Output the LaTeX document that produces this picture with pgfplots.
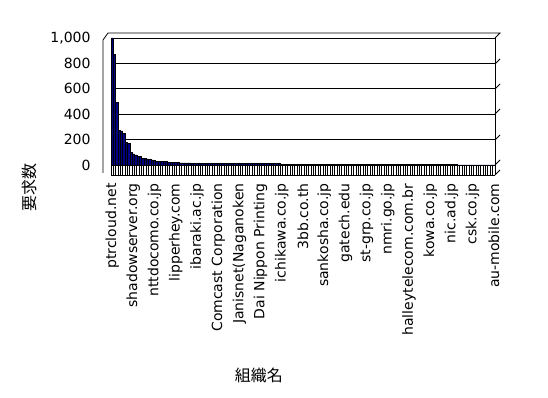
\documentclass[border=0pt]{standalone}
\usepackage{pgfplots}
\usepackage{pgfplotstable}
\pgfplotsset{compat=1.18}
\usepackage{fontspec}
\setmainfont{DejaVu Sans}
\newfontfamily\cjk{Noto Sans CJK JP}
\definecolor{barnavy}{RGB}{0,0,128}
\pgfplotstableread{
v
1000
870
490
272
268
250
175
170
100
88
80
68
65
55
52
48
42
40
38
30
28
27
26
30
22
22
21
20
18
17
17
16
16
16
15
15
15
15
14
14
14
14
13
13
13
13
13
13
13
12
12
12
12
12
12
12
12
12
12
11
11
11
11
11
11
11
11
11
11
11
11
10
4
4
4
4
4
4
4
4
4
4
4
4
4
4
4
4
4
4
4
4
3
3
3
3
3
3
3
3
3
3
3
3
3
3
3
3
3
3
3
3
3
3
3
3
3
2
2
2
2
2
2
2
2
2
2
2
2
2
2
2
2
2
2
2
2
2
2
2
2
2
2
2
2
2
2
1
1
1
1
1
1
1
1
1
1
1
1
1
1
1
1
}\reqdata
\begin{document}
\begin{tikzpicture}
\useasboundingbox (0,0) rectangle (548bp,398bp);
\begin{axis}[
  at={(111bp,233bp)}, anchor=south west,
  scale only axis, width=384bp, height=127bp,
  xmin=-0.5, xmax=162.5, ymin=0, ymax=1000,
  ybar, bar width=1, bar shift=0pt,
  clip=false,
  axis line style={black, line width=0.8bp},
  xtick pos=bottom, ytick pos=left,
  ytick={0,200,...,1000},
  ymajorgrids, major grid style={black, line width=0.8bp},
  xtick={0,9,...,162},
  xticklabels={ptrcloud.net,shadowserver.org,nttdocomo.co.jp,lipperhey.com,ibaraki.ac.jp,Comcast Corporation,Janisnet(Naganoken,Dai Nippon Printing,ichikawa.co.jp,3bb.co.th,sankosha.co.jp,gatech.edu,st-grp.co.jp,nmri.go.jp,halleytelecom.com.br,kowa.co.jp,nic.ad.jp,csk.co.jp,au-mobile.com},
  minor xtick={-0.5,0.5,...,162.5},
  tick align=outside,
  major tick length=0pt,
  minor tick length=10bp,
  minor tick style={black, line width=1bp},
  xticklabel style={rotate=90, anchor=east, font=\fontsize{14bp}{16bp}\selectfont},
  xticklabel shift=15bp,
  yticklabel style={font=\fontsize{14bp}{16bp}\selectfont, xshift=-17bp},
  /pgf/number format/1000 sep={,},
  /pgf/number format/assume math mode=true,
  xlabel={\cjk 組織名},
  xlabel style={at={(rel axis cs:0.385,-1.654)}, anchor=center, font=\cjk\fontsize{16bp}{18bp}\selectfont},
  ylabel={\cjk 要求数},
  ylabel style={at={(rel axis cs:-0.212,-0.18)}, anchor=center, font=\cjk\fontsize{16bp}{18bp}\selectfont},
]
\addplot[fill=barnavy, draw=black, line width=0.6bp] table[x expr=\coordindex, y=v] {\reqdata};
\draw[black, line width=0.8bp] ([yshift=-10bp]rel axis cs:0,0) -- ([yshift=-10bp]rel axis cs:1,0);
\end{axis}
\begin{scope}[x=1bp, y=-1bp, yshift=398bp, line width=0.8bp]
  \draw (103,173) -- (103,40) -- (108,33) -- (500,33) -- (495,38);
  \draw (495,64) -- (500,59);
  \draw (495,89) -- (500,84);
  \draw (495,114) -- (500,109);
  \draw (495,140) -- (500,135);
  \draw (495,165) -- (500,160);
  \draw (495,175) -- (500,170);
\end{scope}
\end{tikzpicture}
\end{document}
